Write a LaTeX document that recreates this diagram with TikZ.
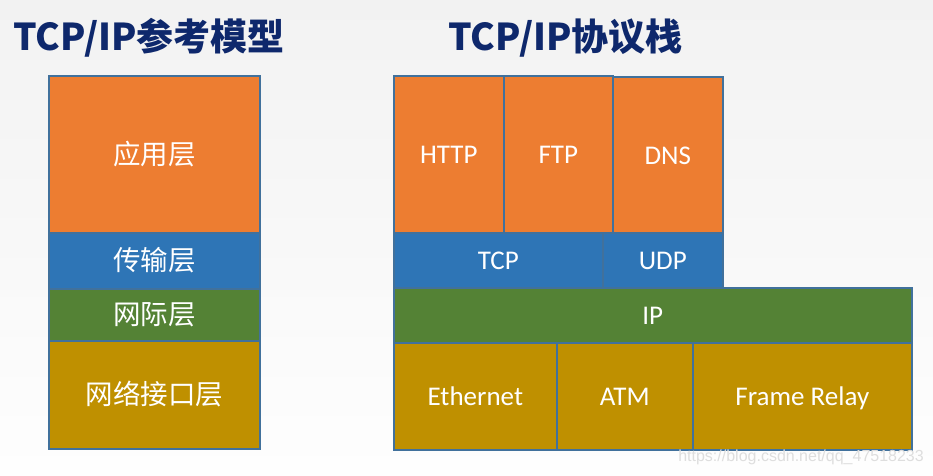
\documentclass[tikz,border=0pt]{standalone}
\usepackage{fontspec}
\setmainfont{Carlito}
\newfontfamily\cjk{Noto Sans CJK SC}
\newfontfamily\wmfont{Liberation Sans}
\definecolor{bordc}{RGB}{65,113,156}
\definecolor{appc}{RGB}{237,125,49}
\definecolor{transc}{RGB}{46,117,182}
\definecolor{netc}{RGB}{84,130,53}
\definecolor{linkc}{RGB}{191,144,0}
\definecolor{titlec}{RGB}{14,40,108}
\definecolor{bgtop}{RGB}{242,242,242}
\definecolor{bgbot}{RGB}{254,254,254}
\definecolor{wmc}{RGB}{222,222,222}
\tikzset{
  cell/.style={draw=bordc, line width=1.6pt, anchor=north west, inner sep=0pt,
    text=white, font=\fontsize{27}{32}\selectfont, text height=19pt, text depth=0pt},
  zh/.style={font=\cjk\fontsize{27.5}{32}\selectfont, text height=20pt},
  title/.style={text=titlec, font=\cjk\bfseries\fontsize{37}{42}\selectfont, inner sep=0pt},
}
\begin{document}
\begin{tikzpicture}[x=1pt,y=-1pt]
\useasboundingbox (0,0) rectangle (933,475);
\shade[top color=bgtop, bottom color=bgbot] (0,0) rectangle (933,475);

\node[title] (t1) at (149,38) {TCP/IP参考模型};
\node[title] (t2) at (565.5,38) {TCP/IP协议栈};

% left model
\node[cell, zh, fill=appc, minimum width=211pt, minimum height=157pt] (app) at (48,75) {应用层};
\node[cell, zh, fill=transc, minimum width=211pt, minimum height=56pt] (trans) at (48,232) {传输层};
\node[cell, zh, fill=netc, minimum width=211pt, minimum height=52pt] (net) at (48,288) {网际层};
\node[cell, zh, fill=linkc, minimum width=211pt, minimum height=108pt] (link) at (48,340) {网络接口层};

% right stack
\node[cell, fill=appc, minimum width=110pt, minimum height=157pt] (http) at (393,75) {HTTP};
\node[cell, fill=appc, minimum width=109pt, minimum height=157pt] (ftp) at (503,75) {FTP};
\node[cell, fill=appc, minimum width=110pt, minimum height=156pt] (dns) at (612,76) {DNS};
\node[cell, fill=transc, minimum width=209pt, minimum height=55pt] (tcp) at (393,232) {TCP};
\node[cell, fill=transc, minimum width=120pt, minimum height=55pt] (udp) at (602,232) {UDP};
\node[cell, fill=netc, minimum width=518pt, minimum height=55pt] (ip) at (393,287) {IP};
\node[cell, fill=linkc, minimum width=163pt, minimum height=107pt] (eth) at (393,342) {Ethernet};
\node[cell, fill=linkc, minimum width=136pt, minimum height=107pt] (atm) at (556,342) {ATM};
\node[cell, fill=linkc, minimum width=219pt, minimum height=107pt] (fr) at (692,342) {Frame Relay};

\node[text=wmc, font=\wmfont\fontsize{16}{18}\selectfont, anchor=east, inner sep=0pt] (wm) at (924,457) {https://blog.csdn.net/qq\_47518233};
\end{tikzpicture}
\end{document}
